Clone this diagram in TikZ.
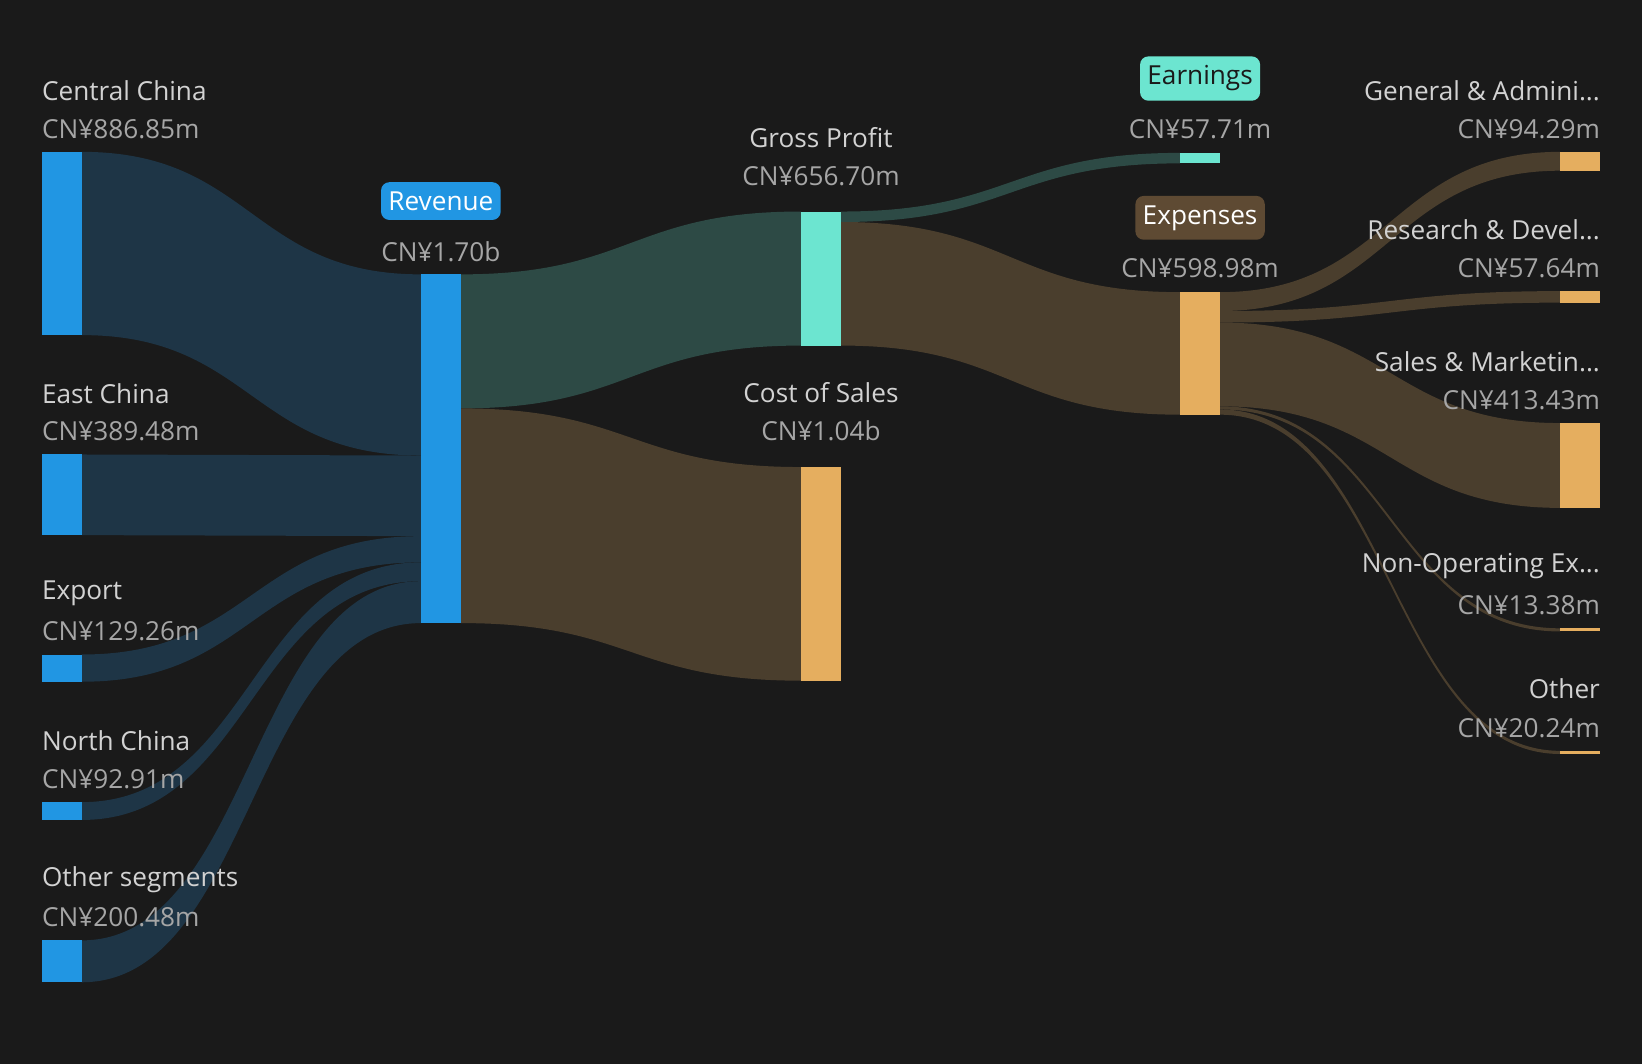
\documentclass[tikz,border=0pt]{standalone}
\usepackage{fontspec}
\setmainfont{Open Sans}
\usetikzlibrary{positioning}
\definecolor{bg}{HTML}{1A1A1A}
\definecolor{barblue}{HTML}{2196E3}
\definecolor{barteal}{HTML}{6CE5D0}
\definecolor{barorange}{HTML}{E5AE5F}
\definecolor{flowblue}{HTML}{1E3546}
\definecolor{flowteal}{HTML}{2D4A45}
\definecolor{flowbrown}{HTML}{4A3E2D}
\definecolor{badgebrown}{HTML}{5E4A33}
\definecolor{nametext}{HTML}{D2D2D2}
\definecolor{valtext}{HTML}{A6A6A6}
% flow band: x1, top1, bot1, x2, top2, bot2, colour
\newcommand{\sflow}[7]{%
  \fill[#7] (#1,#2) .. controls ({(#1+#4)/2},#2) and ({(#1+#4)/2},#5) .. (#4,#5)
    -- (#4,#6) .. controls ({(#1+#4)/2},#6) and ({(#1+#4)/2},#3) .. (#1,#3) -- cycle;}
\begin{document}
\begin{tikzpicture}[x=1pt,y=-1pt,
    lbl/.style={text=nametext,font=\fontsize{25}{28}\selectfont,inner sep=0pt},
    vlab/.style={text=valtext,font=\fontsize{25}{28}\selectfont,inner sep=0pt},
    badge/.style={rounded corners=8pt,font=\fontsize{25}{28}\selectfont,inner xsep=7pt,inner ysep=9pt}
  ]
  \fill[bg] (0,0) rectangle (1568,1016);
  \useasboundingbox (0,0) rectangle (1568,1016);

  % flows
  \sflow{78}{145}{320}{402}{262}{435}{flowblue}
  \sflow{78}{434}{511}{402}{435}{512}{flowblue}
  \sflow{78}{625}{651}{402}{512}{537}{flowblue}
  \sflow{78}{766}{783}{402}{537}{555}{flowblue}
  \sflow{78}{898}{938}{402}{555}{595}{flowblue}
  \sflow{440}{262}{390}{765}{202}{330}{flowteal}
  \sflow{440}{390}{595}{765}{446}{650}{flowbrown}
  \sflow{803}{202}{212}{1127}{146}{156}{flowteal}
  \sflow{803}{212}{330}{1127}{279}{396}{flowbrown}
  \sflow{1165}{279}{297}{1490}{145}{163}{flowbrown}
  \sflow{1165}{297}{308}{1490}{278}{289}{flowbrown}
  \sflow{1165}{308}{388}{1490}{404}{485}{flowbrown}
  \sflow{1165}{388}{391}{1490}{600}{603}{flowbrown}
  \sflow{1165}{391}{396}{1490}{717}{720}{flowbrown}

  % bars
  \fill[barblue] (40,145) rectangle (78,320);
  \fill[barblue] (40,434) rectangle (78,511);
  \fill[barblue] (40,625) rectangle (78,651);
  \fill[barblue] (40,766) rectangle (78,783);
  \fill[barblue] (40,898) rectangle (78,938);
  \fill[barblue] (402,262) rectangle (440,595);
  \fill[barteal] (765,202) rectangle (803,330);
  \fill[barorange] (765,446) rectangle (803,650);
  \fill[barteal] (1127,146) rectangle (1165,156);
  \fill[barorange] (1127,279) rectangle (1165,396);
  \fill[barorange] (1490,145) rectangle (1528,163);
  \fill[barorange] (1490,278) rectangle (1528,289);
  \fill[barorange] (1490,404) rectangle (1528,485);
  \fill[barorange] (1490,600) rectangle (1528,603);
  \fill[barorange] (1490,717) rectangle (1528,720);

  % left labels
  \node[lbl,anchor=west] (centraln) at (40,87) {Central China};
  \node[vlab,anchor=west] (centralv) at (40,123) {CN¥886.85m};
  \node[lbl,anchor=west] (eastn) at (40,376) {East China};
  \node[vlab,anchor=west] (eastv) at (40,412) {CN¥389.48m};
  \node[lbl,anchor=west] (exportn) at (40,567) {Export};
  \node[vlab,anchor=west] (exportv) at (40,603) {CN¥129.26m};
  \node[lbl,anchor=west] (northn) at (40,707) {North China};
  \node[vlab,anchor=west] (northv) at (40,744) {CN¥92.91m};
  \node[lbl,anchor=west] (othersegn) at (40,840) {Other segments};
  \node[vlab,anchor=west] (othersegv) at (40,876) {CN¥200.48m};

  % middle labels
  \node[badge,fill=barblue,text=white] (revn) at (421,192) {Revenue};
  \node[vlab] (revv) at (421,240) {CN¥1.70b};
  \node[lbl] (gpn) at (784,131) {Gross Profit};
  \node[vlab] (gpv) at (784,168) {CN¥656.70m};
  \node[lbl] (cosn) at (784,375) {Cost of Sales};
  \node[vlab] (cosv) at (784,411) {CN¥1.04b};
  \node[badge,fill=barteal,text=bg] (earnn) at (1146,75) {Earnings};
  \node[vlab] (earnv) at (1146,123) {CN¥57.71m};
  \node[badge,fill=badgebrown,text=white] (expn) at (1146,208) {Expenses};
  \node[vlab] (expv) at (1146,256) {CN¥598.98m};

  % right labels
  \node[lbl,anchor=east] (gan) at (1528,87) {General \& Admini...};
  \node[vlab,anchor=east] (gav) at (1528,123) {CN¥94.29m};
  \node[lbl,anchor=east] (rdn) at (1528,219) {Research \& Devel...};
  \node[vlab,anchor=east] (rdv) at (1528,256) {CN¥57.64m};
  \node[lbl,anchor=east] (smn) at (1528,345) {Sales \& Marketin...};
  \node[vlab,anchor=east] (smv) at (1528,382) {CN¥413.43m};
  \node[lbl,anchor=east] (nonopn) at (1528,541) {Non-Operating Ex...};
  \node[vlab,anchor=east] (nonopv) at (1528,578) {CN¥13.38m};
  \node[lbl,anchor=east] (othern) at (1528,658) {Other};
  \node[vlab,anchor=east] (otherv) at (1528,695) {CN¥20.24m};
\end{tikzpicture}
\end{document}
